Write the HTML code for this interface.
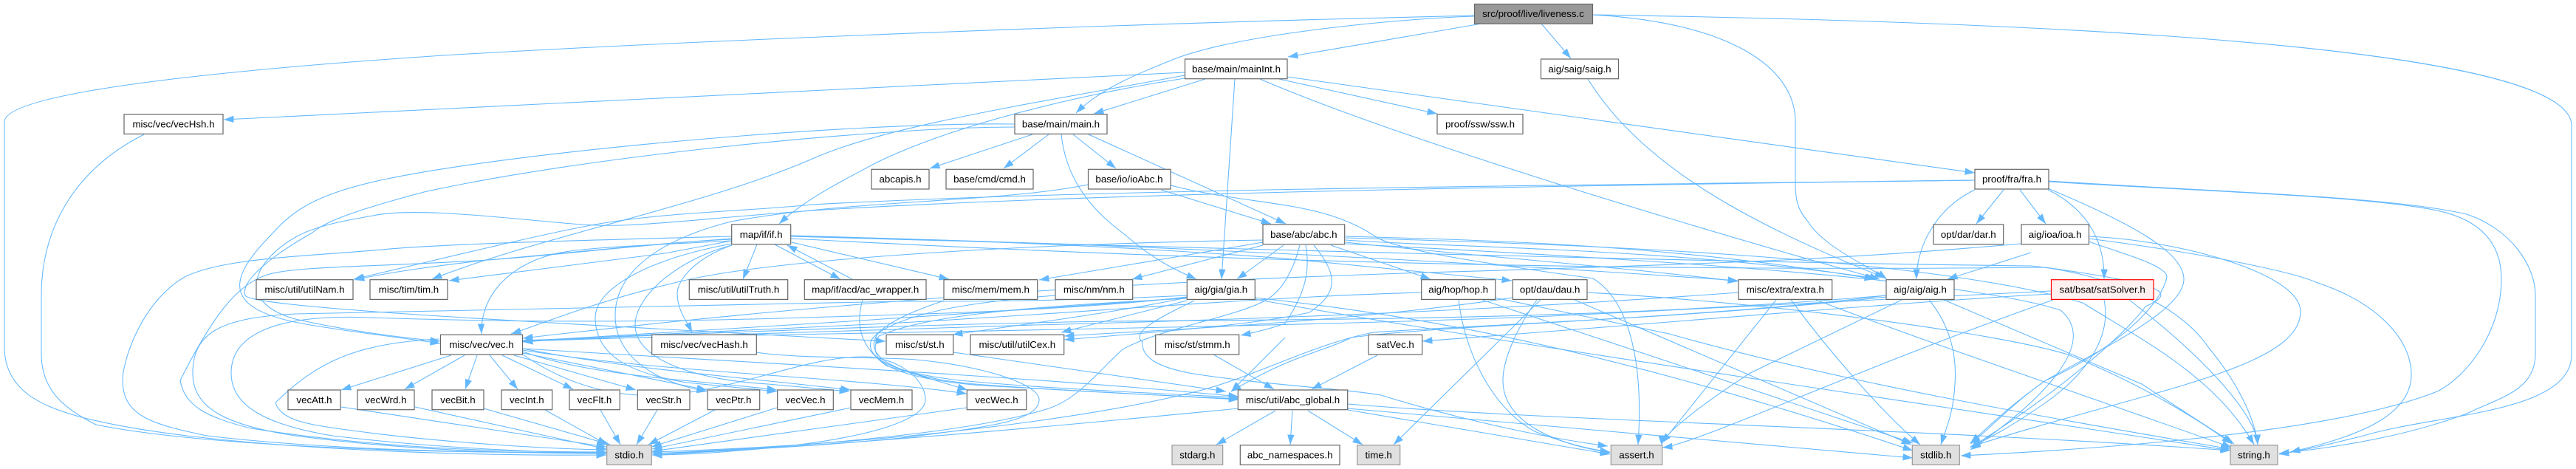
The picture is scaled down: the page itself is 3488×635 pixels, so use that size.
<!DOCTYPE html>
<html><head><meta charset="utf-8"><title>liveness.c include graph</title>
<style>
html,body{margin:0;padding:0;background:#fff;width:3488px;height:635px;overflow:hidden}
svg{display:block}
.e path{fill:none;stroke:#63b8ff;stroke-width:1.05;marker-end:url(#a)}
.n rect{fill:#fff;stroke:#666;stroke-width:1.2}
.g rect{fill:#e0e0e0;stroke:#999;stroke-width:1.2}
.r rect{fill:#999;stroke:#666;stroke-width:1.2}
.s rect{fill:#fff0f0;stroke:#f00;stroke-width:1.2}
text{font-family:"Liberation Sans",Arial,sans-serif;font-size:13.33px;fill:#000;text-anchor:middle}
</style></head><body>
<svg width="3488" height="635" viewBox="0 0 3488 635" xmlns="http://www.w3.org/2000/svg">
<defs><marker id="a" markerUnits="userSpaceOnUse" markerWidth="15" markerHeight="11" refX="13.5" refY="5" orient="auto"><path d="M0 .3L13.5 5L0 9.7z" fill="#63b8ff"/></marker></defs>
<g class="e">
<!-- liveness.c -->
<path d="M1996 21L1800 26C1400 37 900 57 600 75C300 95 6 125 6 165L6 470C6 530 60 550 100 562C250 605 600 618 821 616"/>
<path d="M1996 22C1900 25 1680 45 1590 80C1540 100 1490 120 1457 153"/>
<path d="M2006 32L1744 77"/>
<path d="M2087 32L2127 79"/>
<path d="M2156 20C2340 30 2431 90 2431 165L2431 250C2431 280 2440 290 2448 300C2470 335 2530 360 2555 378"/>
<path d="M2156 20C2600 27 3482 50 3482 170L3482 480C3482 560 3300 560 3200 590C3160 600 3120 610 3086 615"/>
<!-- mainInt.h -->
<path d="M1604 98L303 162"/>
<path d="M1632 107L1481 154"/>
<path d="M1604 102C1400 140 1200 170 1100 215C950 280 730 320 585 378"/>
<path d="M1604 106C1480 125 1300 165 1187 220C1140 245 1090 270 1055 303"/>
<path d="M1672 107L1654 378"/>
<path d="M1732 107L1946 154"/>
<path d="M1743 104L2674 234"/>
<path d="M1706 107C1900 190 2300 310 2545 378"/>
<!-- saig.h -->
<path d="M2150 107C2220 220 2360 300 2552 376"/>
<!-- vecHsh.h -->
<path d="M195 182C100 230 56 310 56 400L56 480C56 530 90 555 130 575C280 605 600 615 821 612"/>
<!-- main.h -->
<path d="M1398 182L1259 228"/>
<path d="M1420 182L1359 228"/>
<path d="M1453 182L1511 228"/>
<path d="M1474 182L1741 303"/>
<path d="M1437 182C1445 260 1500 300 1526 320C1560 350 1590 365 1620 378"/>
<path d="M1374 168C1150 165 700 205 520 243C440 260 400 280 370 315C305 380 300 420 420 440C480 450 550 458 596 465"/>
<path d="M1374 172C1200 172 800 210 574 260C480 285 440 300 423 315C370 345 325 380 332 400C340 418 800 440 1199 462"/>
<!-- ioAbc.h -->
<path d="M1572 257L1721 303"/>
<path d="M1585 251C1700 280 1790 270 1865 322C1900 340 2000 355 2157 377C2210 410 2225 500 2218 602"/>
<path d="M1473 250C1350 275 1150 270 990 300C890 325 833 370 833 427C833 490 900 520 957 530"/>
<!-- fra.h -->
<path d="M2674 244C2200 250 1500 255 1100 277C1000 287 900 287 800 305C720 320 600 350 479 378"/>
<path d="M2674 244C2200 250 1500 260 1100 285C900 300 850 310 775 303C680 295 560 280 505 292C470 298 430 305 402 320C340 355 320 410 400 432C470 448 550 458 596 462"/>
<path d="M2713 257L2676 303"/>
<path d="M2735 257L2770 303"/>
<path d="M2674 257C2625 280 2595 330 2595 378"/>
<path d="M2773 257C2820 280 2850 320 2849 378"/>
<path d="M2773 255C2880 300 2957 340 2957 378C2957 420 2850 470 2770 515C2720 550 2690 580 2668 600"/>
<path d="M2774 246C3000 260 3200 265 3300 285C3370 300 3387 340 3387 378C3387 450 3340 510 3300 530C3150 590 2800 610 2655 617"/>
<path d="M2774 245C3000 260 3230 265 3340 290C3400 310 3433 360 3433 400L3433 480C3433 530 3380 540 3340 560C3260 590 3170 605 3086 614"/>
<!-- if.h -->
<path d="M1025 331L1006 378"/>
<path d="M1049 331L1138 378"/>
<path d="M1072 328L1285 378"/>
<path d="M991 326L900 343L608 380"/>
<path d="M991 324C900 328 800 340 660 352C590 360 530 368 480 379"/>
<path d="M991 320C800 325 600 330 517 338C400 348 300 350 250 375C190 410 166 490 166 515C166 565 210 575 280 590C450 610 650 613 821 613"/>
<path d="M991 323C850 333 760 345 660 352C500 362 400 360 362 372C320 385 287 430 244 515C250 550 280 565 340 580C500 605 650 612 821 612"/>
<path d="M991 330C880 350 806 390 806 430C806 480 850 505 930 518L1052 530"/>
<path d="M991 332C920 350 860 400 860 440C860 490 950 515 1040 520L1150 530"/>
<path d="M991 332C940 350 917 380 917 397C917 420 930 435 937 450"/>
<path d="M991 326C880 332 780 335 746 345C690 360 650 400 652 452"/>
<path d="M1071 319C1300 325 1500 332 1740 350C1850 360 1950 370 2047 380"/>
<path d="M1071 320C1500 328 2000 355 2353 380"/>
<path d="M1071 320C1600 335 2300 355 2750 360C2850 370 2950 410 2990 470C3040 530 3055 580 3057 602"/>
<path d="M1071 323C1400 340 2000 370 2770 362C2930 385 2950 395 2905 415C2880 450 2790 530 2668 606"/>
<!-- ac_wrapper -->
<path d="M1154 378L1066 332"/>
<path d="M1168 406C1158 440 1165 470 1200 495L1310 528"/>
<!-- abc.h -->
<path d="M1710 325C1400 330 1040 350 913 383C800 410 730 440 692 452"/>
<path d="M1710 328L1407 379"/>
<path d="M1710 332L1533 378"/>
<path d="M1738 332L1675 378"/>
<path d="M1802 332L1937 378"/>
<path d="M1768 332C1775 370 1765 400 1740 438C1720 445 1700 450 1680 454"/>
<path d="M1779 332C1810 370 1815 395 1773 423C1700 440 1560 450 1441 460"/>
<path d="M1760 332C1750 370 1735 395 1713 407C1670 430 1570 445 1520 473C1490 500 1460 540 1420 553C1320 585 1100 605 883 614"/>
<path d="M1822 320C2000 325 2260 330 2538 378"/>
<path d="M1822 325C1950 335 2260 335 2540 377"/>
<path d="M1822 328C1980 345 2180 360 2353 381"/>
<path d="M1822 322C2100 330 2600 345 2820 410C2900 460 3000 510 3052 602"/>
<path d="M1822 330C2200 350 2650 375 2790 420C2850 470 2740 560 2668 609"/>
<!-- gia.h -->
<path d="M1607 400C1450 408 1300 408 1220 408C1000 410 700 417 400 425C300 430 261 450 261 505C261 550 300 575 400 590C550 610 700 614 821 614"/>
<path d="M1607 402C1500 415 1350 422 1220 426C1000 433 800 440 500 430C380 425 313 450 313 505C313 550 360 575 450 590C600 608 750 613 821 613"/>
<path d="M1607 403C1500 412 1300 425 1150 435C1000 445 800 455 708 462"/>
<path d="M1607 407L1437 450"/>
<path d="M1607 403C1500 425 1380 440 1290 453"/>
<path d="M1617 407C1570 430 1530 450 1547 463C1545 485 1570 497 1610 505C1700 520 1827 527 1870 535C1950 560 2070 590 2177 604"/>
<path d="M1699 403C1950 430 2200 480 2590 610"/>
<path d="M1699 405C2000 460 2700 560 3020 610"/>
<!-- hop.h -->
<path d="M1925 396C1700 402 1450 425 1200 438C1000 448 800 456 708 463"/>
<path d="M1975 406C1985 490 2030 560 2080 585C2120 600 2150 608 2180 612"/>
<path d="M2007 406L2260 490L2590 600"/>
<path d="M2024 403L2260 452C2500 520 2800 570 3020 608"/>
<!-- dau.h -->
<path d="M2048 403C1800 440 1500 450 1441 455"/>
<path d="M2086 406L1887 602"/>
<path d="M2081 406C2050 450 2035 490 2035 515C2035 570 2100 600 2180 613"/>
<path d="M2132 406L2588 602"/>
<path d="M2149 396C2400 410 2700 450 2800 480C2900 520 2980 570 3022 601"/>
<!-- extra.h -->
<path d="M2354 396C2100 415 1800 430 1400 440C1100 450 850 458 708 462"/>
<path d="M2405 406L2250 600"/>
<path d="M2425 406C2480 480 2550 560 2600 602"/>
<path d="M2459 406C2600 460 2750 510 3022 606"/>
<!-- aig.h -->
<path d="M2554 400C2200 430 1900 432 1500 435C1200 440 950 452 708 461"/>
<path d="M2554 400C2300 432 1950 440 1830 457C1790 477 1750 480 1667 530"/>
<path d="M2554 402C2300 430 2000 440 1860 450C1780 465 1700 510 1620 530C1500 560 1250 600 883 612"/>
<path d="M2575 406L2370 505C2300 550 2250 590 2250 603"/>
<path d="M2612 406C2640 440 2650 480 2647 520C2645 560 2635 580 2628 602"/>
<path d="M2632 406L2900 520L3025 601"/>
<!-- satSolver.h -->
<path d="M2777 398C2560 410 2260 437 1926 462"/>
<path d="M2777 394C2500 408 2300 420 2100 428C1700 445 1000 452 708 461"/>
<path d="M2780 406C2500 505 2300 600 2251 606"/>
<path d="M2849 406C2860 460 2820 510 2770 545C2720 580 2690 595 2668 605"/>
<path d="M2883 406C2980 480 3055 560 3057 602"/>
<!-- ioa.h -->
<path d="M2737 330C2500 350 2400 355 1900 370C1600 380 1200 400 708 458"/>
<path d="M2750 342L2637 378"/>
<path d="M2828 320C2950 325 3115 370 3115 422C3115 500 2900 530 2668 605"/>
<path d="M2828 323C3000 345 3110 370 3138 383C3220 410 3265 460 3265 507C3265 560 3200 590 3101 612"/>
<path d="M2828 327C2880 345 2934 360 2934 375C2925 420 2850 480 2770 515C2720 550 2690 585 2668 601"/>
<!-- vec.h -->
<path d="M611 481L462 528"/>
<path d="M629 481L548 527"/>
<path d="M646 481L630 527"/>
<path d="M663 481L701 527"/>
<path d="M680 481L776 527"/>
<path d="M696 481L861 528"/>
<path d="M708 478L957 528"/>
<path d="M708 476C800 510 950 515 1052 528"/>
<path d="M708 472C850 500 1000 510 1152 528"/>
<path d="M708 474C900 505 1150 510 1309 533"/>
<path d="M595 459C480 465 430 490 373 545C380 570 420 575 470 582C600 600 750 608 821 609"/>
<path d="M708 480C780 530 860 545 940 530C1030 515 1100 483 1170 483C1210 483 1253 510 1253 541C1253 575 1140 600 1000 610C950 615 900 616 883 616"/>
<path d="M708 472C1000 490 1400 510 1677 537"/>
<!-- vecHash -->
<path d="M1024 477C1080 486 1200 483 1240 487C1330 495 1407 520 1407 541C1407 570 1340 578 1220 593C1100 605 950 612 883 614"/>
<!-- misc sources -->
<path d="M1278 407C1240 420 1200 435 1180 460C1170 485 1210 505 1300 515C1400 525 1550 532 1677 538"/>
<path d="M1429 400C1300 410 1230 425 1190 450C1165 480 1210 510 1320 520C1450 530 1570 535 1677 540"/>
<path d="M1607 404C1400 415 1260 425 1190 455C1170 490 1210 512 1330 522L1677 541"/>
<path d="M1291 477L1660 530"/>
<path d="M1643 480L1725 527"/>
<path d="M1740 457L1667 530"/>
<!-- row 7 to stdio -->
<path d="M462 551L821 605"/>
<path d="M562 551L821 608"/>
<path d="M655 553L826 602"/>
<path d="M738 555L822 602"/>
<path d="M813 555L840 602"/>
<path d="M890 555L862 602"/>
<path d="M968 555L878 602"/>
<path d="M1052 552L882 605"/>
<path d="M1152 552L883 608"/>
<path d="M1309 552L883 611"/>
<!-- abc_global -->
<path d="M1677 553C1500 570 1220 598 883 616"/>
<path d="M1727 556L1647 602"/>
<path d="M1750 556L1747 602"/>
<path d="M1771 556L1845 602"/>
<path d="M1825 555L2180 615"/>
<path d="M1825 553L2590 620"/>
<path d="M1825 547C2100 570 2600 580 3020 610"/>
<path d="M1865 481L1776 527"/>
</g>
<g>
<g class="r"><rect x="1996.5" y="5.5" width="160" height="26.7"/><text x="2076" y="23">src/proof/live/liveness.c</text></g>
<g class="n"><rect x="1604.5" y="80" width="138.5" height="26.7"/><text x="1674" y="98">base/main/mainInt.h</text></g>
<g class="n"><rect x="2086.5" y="80" width="105" height="26.7"/><text x="2139" y="98">aig/saig/saig.h</text></g>
<g class="n"><rect x="168" y="154.7" width="134" height="26.7"/><text x="235" y="172.5">misc/vec/vecHsh.h</text></g>
<g class="n"><rect x="1374" y="154.7" width="125" height="26.7"/><text x="1436.5" y="172.5">base/main/main.h</text></g>
<g class="n"><rect x="1946" y="154.7" width="116" height="26.7"/><text x="2004" y="172.5">proof/ssw/ssw.h</text></g>
<g class="n"><rect x="1180" y="229.3" width="78" height="26.7"/><text x="1219" y="247">abcapis.h</text></g>
<g class="n"><rect x="1281" y="229.3" width="118" height="26.7"/><text x="1340" y="247">base/cmd/cmd.h</text></g>
<g class="n"><rect x="1473.5" y="229.3" width="111.5" height="26.7"/><text x="1529" y="247">base/io/ioAbc.h</text></g>
<g class="n"><rect x="2674" y="229.3" width="100" height="26.7"/><text x="2724" y="247">proof/fra/fra.h</text></g>
<g class="n"><rect x="990.7" y="304" width="80" height="26.7"/><text x="1030.7" y="322">map/if/if.h</text></g>
<g class="n"><rect x="1710" y="304" width="110.7" height="26.7"/><text x="1765.3" y="322">base/abc/abc.h</text></g>
<g class="n"><rect x="2618" y="304" width="94.7" height="26.7"/><text x="2665.3" y="322">opt/dar/dar.h</text></g>
<g class="n"><rect x="2737" y="304" width="91.5" height="26.7"/><text x="2782.7" y="322">aig/ioa/ioa.h</text></g>
<g class="n"><rect x="347" y="378.7" width="131" height="26.7"/><text x="412.5" y="396.5">misc/util/utilNam.h</text></g>
<g class="n"><rect x="501" y="378.7" width="105" height="26.7"/><text x="553.5" y="396.5">misc/tim/tim.h</text></g>
<g class="n"><rect x="933.3" y="378.7" width="133.4" height="26.7"/><text x="1000" y="396.5">misc/util/utilTruth.h</text></g>
<g class="n"><rect x="1089.3" y="378.7" width="164.7" height="26.7"/><text x="1171.7" y="396.5">map/if/acd/ac_wrapper.h</text></g>
<g class="n"><rect x="1278" y="378.7" width="126.7" height="26.7"/><text x="1341.3" y="396.5">misc/mem/mem.h</text></g>
<g class="n"><rect x="1429" y="378.7" width="104.7" height="26.7"/><text x="1481.3" y="396.5">misc/nm/nm.h</text></g>
<g class="n"><rect x="1607.3" y="378.7" width="92" height="26.7"/><text x="1653.3" y="396.5">aig/gia/gia.h</text></g>
<g class="n"><rect x="1924.7" y="378.7" width="100" height="26.7"/><text x="1974.7" y="396.5">aig/hop/hop.h</text></g>
<g class="n"><rect x="2048.3" y="378.7" width="100.7" height="26.7"/><text x="2098.7" y="396.5">opt/dau/dau.h</text></g>
<g class="n"><rect x="2354" y="378.7" width="126.7" height="26.7"/><text x="2417.3" y="396.5">misc/extra/extra.h</text></g>
<g class="n"><rect x="2554" y="378.7" width="92" height="26.7"/><text x="2600" y="396.5">aig/aig/aig.h</text></g>
<g class="s"><rect x="2777.5" y="378.7" width="138.5" height="26.7"/><text x="2846.7" y="396.5">sat/bsat/satSolver.h</text></g>
<g class="n"><rect x="596.5" y="453.3" width="111" height="26.7"/><text x="652" y="471">misc/vec/vec.h</text></g>
<g class="n"><rect x="882.7" y="453.3" width="141.6" height="26.7"/><text x="953.5" y="471">misc/vec/vecHash.h</text></g>
<g class="n"><rect x="1200" y="453.3" width="90.7" height="26.7"/><text x="1245.3" y="471">misc/st/st.h</text></g>
<g class="n"><rect x="1314" y="453.3" width="126.7" height="26.7"/><text x="1377.3" y="471">misc/util/utilCex.h</text></g>
<g class="n"><rect x="1564.7" y="453.3" width="113" height="26.7"/><text x="1621.2" y="471">misc/st/stmm.h</text></g>
<g class="n"><rect x="1853" y="453.3" width="72.7" height="26.7"/><text x="1889.3" y="471">satVec.h</text></g>
<g class="n"><rect x="390" y="528" width="71" height="26.7"/><text x="425.5" y="546">vecAtt.h</text></g>
<g class="n"><rect x="484" y="528" width="77" height="26.7"/><text x="522.5" y="546">vecWrd.h</text></g>
<g class="n"><rect x="585" y="528" width="70" height="26.7"/><text x="620" y="546">vecBit.h</text></g>
<g class="n"><rect x="679" y="528" width="68.7" height="26.7"/><text x="713.3" y="546">vecInt.h</text></g>
<g class="n"><rect x="771" y="528" width="68.3" height="26.7"/><text x="805" y="546">vecFlt.h</text></g>
<g class="n"><rect x="863.3" y="528" width="70.7" height="26.7"/><text x="898.7" y="546">vecStr.h</text></g>
<g class="n"><rect x="958" y="528" width="70.7" height="26.7"/><text x="993.3" y="546">vecPtr.h</text></g>
<g class="n"><rect x="1052.7" y="528" width="75.6" height="26.7"/><text x="1090.5" y="546">vecVec.h</text></g>
<g class="n"><rect x="1152" y="528" width="83" height="26.7"/><text x="1193.5" y="546">vecMem.h</text></g>
<g class="n"><rect x="1309.3" y="528" width="80.4" height="26.7"/><text x="1349.5" y="546">vecWec.h</text></g>
<g class="n"><rect x="1676.3" y="528" width="148.4" height="26.7"/><text x="1750.5" y="546">misc/util/abc_global.h</text></g>
<g class="g"><rect x="821.7" y="602.7" width="60.6" height="26.7"/><text x="852" y="620.5">stdio.h</text></g>
<g class="g"><rect x="1587" y="602.7" width="68.7" height="26.7"/><text x="1621.3" y="620.5">stdarg.h</text></g>
<g class="n"><rect x="1679.3" y="602.7" width="134.7" height="26.7"/><text x="1746.7" y="620.5">abc_namespaces.h</text></g>
<g class="g"><rect x="1837.7" y="602.7" width="58" height="26.7"/><text x="1866.7" y="620.5">time.h</text></g>
<g class="g"><rect x="2181.3" y="602.7" width="69.4" height="26.7"/><text x="2216" y="620.5">assert.h</text></g>
<g class="g"><rect x="2589.3" y="602.7" width="64" height="26.7"/><text x="2621.3" y="620.5">stdlib.h</text></g>
<g class="g"><rect x="3020" y="602.7" width="64" height="26.7"/><text x="3052" y="620.5">string.h</text></g>
</g>
</svg>
</body></html>
